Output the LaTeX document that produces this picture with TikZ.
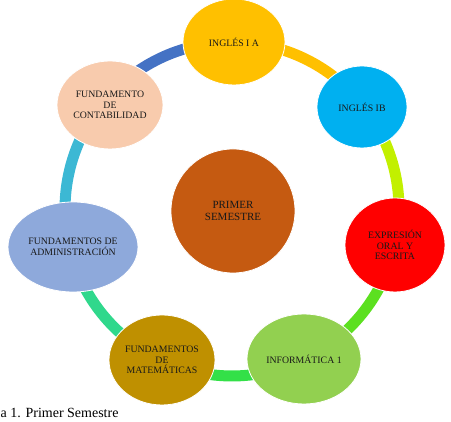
\documentclass[tikz,border=0pt]{standalone}
\usepackage{fontspec}
\setmainfont{Liberation Serif}
\usetikzlibrary{shapes.geometric}
\definecolor{cIA}{HTML}{FFC000}
\definecolor{cIB}{HTML}{00B0F0}
\definecolor{cEX}{HTML}{FF0000}
\definecolor{cIN}{HTML}{92D050}
\definecolor{cMA}{HTML}{BF9000}
\definecolor{cAD}{HTML}{8EA9DB}
\definecolor{cCO}{HTML}{F8CBAD}
\definecolor{cPS}{HTML}{C55A11}
\definecolor{aBlue}{HTML}{4472C4}
\definecolor{aYel}{HTML}{FFC000}
\definecolor{aLime}{HTML}{C2F000}
\definecolor{aGrn}{HTML}{5CE020}
\definecolor{aGrn2}{HTML}{33E048}
\definecolor{aTeal}{HTML}{30D88C}
\definecolor{aCyan}{HTML}{3CB8D4}
\tikzset{
  ring/.style={line width=11pt, line cap=butt},
  subject/.style={ellipse, draw=white, line width=0.8pt, inner sep=0pt,
    align=center, font=\fontsize{9.8}{10.8}\selectfont, text=black!90},
  core/.style={subject, font=\fontsize{11}{12}\selectfont}
}
\begin{document}
\begin{tikzpicture}[x=1pt,y=1pt]
\useasboundingbox (0,0) rectangle (451,422);
\coordinate (C) at (232,213);
% ring segments between neighbouring subjects
\draw[ring, aYel]  (C) ++(90:167pt)     arc[start angle=90,     end angle=38.6,   radius=167pt];
\draw[ring, aLime] (C) ++(38.6:167pt)   arc[start angle=38.6,   end angle=-12.9,  radius=167pt];
\draw[ring, aGrn]  (C) ++(-12.9:167pt)  arc[start angle=-12.9,  end angle=-64.3,  radius=167pt];
\draw[ring, aGrn2] (C) ++(-64.3:167pt)  arc[start angle=-64.3,  end angle=-115.7, radius=167pt];
\draw[ring, aTeal] (C) ++(-115.7:167pt) arc[start angle=-115.7, end angle=-167.1, radius=167pt];
\draw[ring, aCyan] (C) ++(-167.1:167pt) arc[start angle=-167.1, end angle=-218.6, radius=167pt];
\draw[ring, aBlue] (C) ++(141.4:167pt)  arc[start angle=141.4,  end angle=90,     radius=167pt];
% subjects
\node[subject, fill=cIA, minimum width=102pt, minimum height=86pt] (ia) at (234,380) {INGLÉS I A};
\node[subject, fill=cIB, minimum width=90pt, minimum height=82pt] (ib) at (362,315) {INGLÉS IB};
\node[subject, fill=cEX, minimum width=100pt, minimum height=94pt] (ex) at (395,177) {EXPRESIÓN\\ORAL Y\\ESCRITA};
\node[subject, fill=cIN, minimum width=114pt, minimum height=90pt] (inf) at (304,63) {INFORMÁTICA 1};
\node[subject, fill=cMA, minimum width=106pt, minimum height=90pt] (mat) at (162,62) {FUNDAMENTOS\\DE\\MATEMÁTICAS};
\node[subject, fill=cAD, minimum width=130pt, minimum height=90pt] (adm) at (73,175) {FUNDAMENTOS DE\\ADMINISTRACIÓN};
\node[subject, fill=cCO, minimum width=106pt, minimum height=88pt] (con) at (110,317) {FUNDAMENTO\\DE\\CONTABILIDAD};
\node[core, fill=cPS, minimum width=124pt, minimum height=124pt] (ps) at (233,211) {PRIMER\\SEMESTRE};
% caption
\node[anchor=base west, inner sep=0pt, font=\fontsize{14}{16}\selectfont] (cap) at (0.5,4) {a 1. Primer Semestre};
\end{tikzpicture}
\end{document}
